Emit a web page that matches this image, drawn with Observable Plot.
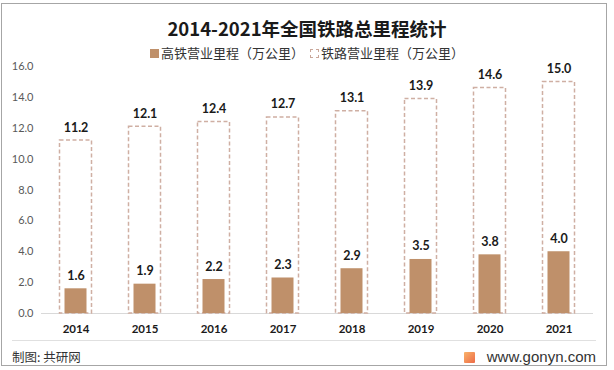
<!DOCTYPE html>
<html>
<head>
<meta charset="utf-8">
<script src="https://cdn.jsdelivr.net/npm/d3@7"></script>
<script src="https://cdn.jsdelivr.net/npm/@observablehq/plot@0.6"></script>
<style>
  html, body { margin: 0; padding: 0; background: #fff; }
  #wrap { position: relative; width: 614px; height: 370px; overflow: hidden; font-family: "Noto Sans CJK SC", "Noto Sans", sans-serif; }
  #frame { position: absolute; left: 1px; top: 3px; width: 606px; height: 363px; border: 1px solid #A6A6A6; box-sizing: border-box; }
  #title { position: absolute; left: 0; width: 614px; top: 14.5px; text-align: center; font-size: 18.5px; font-weight: 700; color: #1a1a1a; line-height: normal; }
  #legend { position: absolute; left: 0; width: 614px; top: 42.5px; text-align: center; font-size: 13px; color: #333; line-height: normal; }
  .sw { display: inline-block; width: 9px; height: 9px; vertical-align: 0px; margin-right: 2px; box-sizing: border-box; }
  #sep { position: absolute; left: 12px; top: 340px; width: 584px; height: 1px; background: #E0E0E0; }
  #src { position: absolute; left: 12px; top: 348px; font-size: 12.5px; color: #333; line-height: 18px; }
  #site { position: absolute; right: 18px; top: 347px; font-size: 15px; color: #333; line-height: 20px; font-family: "Liberation Sans", Arial, sans-serif; }
  #logo { display: inline-block; width: 11px; height: 11px; background: linear-gradient(135deg, #F9B36A, #EE6B47); vertical-align: -1px; margin-right: 12px; border-radius: 1px; }
  #chart { position: absolute; left: 0; top: 0; }
</style>
</head>
<body>
<div id="wrap">
  <div id="chart"></div>
  <div id="frame"></div>
  <div id="title">2014-2021年全国铁路总里程统计</div>
  <div id="legend"><span class="sw" style="background:#BF906A"></span>高铁营业里程（万公里）&nbsp;&nbsp;<span class="sw" style="border:1px dashed #C9A79A"></span>铁路营业里程（万公里）</div>
  <div id="sep"></div>
  <div id="src">制图: 共研网</div>
  <div id="site"><span id="logo"></span>www.gonyn.com</div>
</div>
<script>
const years = ["2014", "2015", "2016", "2017", "2018", "2019", "2020", "2021"];
const highSpeed = [1.6, 1.9, 2.2, 2.3, 2.9, 3.5, 3.8, 4.0];
const railway = [11.2, 12.1, 12.4, 12.7, 13.1, 13.9, 14.6, 15.0];
const yTicks = [0, 2, 4, 6, 8, 10, 12, 14, 16];

const data = years.map((y, i) => ({year: y, hs: highSpeed[i], rw: railway[i]}));
const numFont = "Lato, 'Open Sans', sans-serif";

const chart = Plot.plot({
  width: 614,
  height: 370,
  marginTop: 66,
  marginBottom: 57,
  marginLeft: 41,
  marginRight: 21,
  style: {background: "transparent", fontFamily: numFont, overflow: "visible"},
  x: {domain: years, padding: 0, label: null},
  y: {domain: [0, 16], label: null},
  marks: [
    Plot.axisY({ticks: yTicks, tickFormat: d => d.toFixed(1), tickSize: 0, tickPadding: 8, fontSize: 11, color: "#595959", fill: "#595959"}),
    Plot.axisX({tickSize: 0, tickPadding: 11, fontSize: 11.5, fontWeight: "bold", fill: "#1a1a1a"}),
    Plot.ruleY([0], {stroke: "#D9D9D9", strokeWidth: 1}),
    Plot.barY(data, {x: "year", y: "rw", fill: "none", stroke: "#CFAFA3", strokeWidth: 1.5, strokeDasharray: "4,2.5", insetLeft: 18.5, insetRight: 18.5}),
    Plot.barY(data, {x: "year", y: "hs", fill: "#BF906A", insetLeft: 23.5, insetRight: 23.5}),
    Plot.text(data, {x: "year", y: "rw", text: d => d.rw.toFixed(1), dy: -13, fontSize: 12.5, fontWeight: "bold", fill: "#1a1a1a"}),
    Plot.text(data, {x: "year", y: "hs", text: d => d.hs.toFixed(1), dy: -13, fontSize: 12.5, fontWeight: "bold", fill: "#1a1a1a"})
  ]
});
document.getElementById("chart").appendChild(chart);
</script>
</body>
</html>
